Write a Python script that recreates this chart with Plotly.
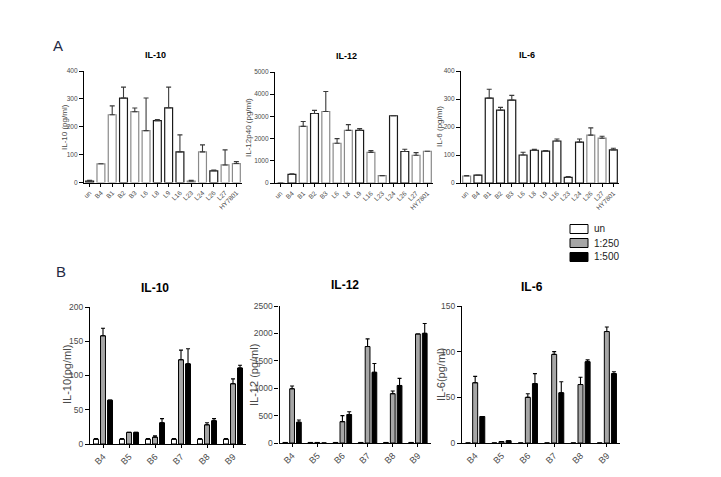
import plotly.graph_objects as go

# page body has an 8px default margin; compensate so the drawing lands where the reference has it
OFF = 8
W, H = 721 - 2 * OFF, 477 - 2 * OFF

# ---------------- data: panel A ----------------
cats_a = ["un", "B4", "B1", "B2", "B3", "L6", "L8", "L9", "L16", "L23", "L24", "L26", "L27", "HY7801"]
il10_a = [5, 67, 243, 303, 254, 186, 222, 268, 110, 5, 110, 42, 63, 68]
il10_a_err = [8, 67, 275, 342, 267, 303, 226, 342, 171, 8, 135, 45, 117, 75]
il12_a = [0, 385, 2550, 3130, 3220, 1790, 2370, 2370, 1380, 330, 3030, 1420, 1250, 1430]
il12_a_err = [0, 420, 2770, 3270, 4120, 2000, 2630, 2450, 1460, 330, 3030, 1520, 1370, 1430]
il6_a = [25, 28, 303, 260, 296, 100, 117, 114, 150, 20, 146, 171, 160, 118]
il6_a_err = [27, 28, 335, 270, 313, 110, 120, 116, 157, 23, 157, 197, 167, 124]

# ---------------- data: panel B ----------------
cats_b = ["B4", "B5", "B6", "B7", "B8", "B9"]
series_b = ["un", "1:250", "1:500"]
il10_b = {
    "un": [7, 7, 7, 7, 7, 7],
    "1:250": [158, 17, 10, 123, 28, 88],
    "1:500": [64, 17, 31, 117, 34, 111],
}
il10_b_err = {
    "un": [8, 8, 8, 8, 8, 8],
    "1:250": [169, 17, 12, 137, 31, 95],
    "1:500": [64, 17, 37, 139, 37, 115],
}
il12_b = {
    "un": [10, 10, 10, 10, 10, 10],
    "1:250": [990, 10, 390, 1760, 900, 1990],
    "1:500": [380, 0, 520, 1290, 1050, 2000],
}
il12_b_err = {
    "un": [10, 10, 10, 10, 10, 10],
    "1:250": [1040, 10, 500, 1900, 950, 1990],
    "1:500": [420, 0, 570, 1450, 1180, 2180],
}
il6_b = {
    "un": [0, 0, 0, 0, 0, 0],
    "1:250": [66, 1.5, 50, 97, 64, 122],
    "1:500": [29, 2.5, 65, 55, 89, 76],
}
il6_b_err = {
    "un": [0, 0, 0, 0, 0, 0],
    "1:250": [73, 1.5, 54, 100, 72, 127],
    "1:500": [29, 2.5, 76, 67, 91, 78],
}

# ---------------- styles ----------------
G, K = "#8a8a8a", "#1a1a1a"
outline_il10_a = [K, G, G, K, G, G, K, K, K, G, G, K, G, G]
outline_il12_a = [G, K, G, K, G, G, G, K, G, G, K, K, G, G]
outline_il6_a = [G, K, K, K, K, K, K, K, K, K, K, G, G, K]
fill_b = {"un": "white", "1:250": "#a6a6a6", "1:500": "black"}
center_b = {"un": -0.27, "1:250": 0.0, "1:500": 0.27}
BW = 0.19

FONT = "Liberation Sans Narrow, Arial Narrow, Liberation Sans, Arial, sans-serif"
TICKC = "#4a4a4a"


def px(x):
    return (x - OFF) / W


def py(y):
    return 1 - (y - OFF) / H


fig = go.Figure()

panels = {
    "a1": ("x", "y", (84, 242), (71, 182.5), 400, 100),
    "a2": ("x2", "y2", (275, 433), (72, 183), 5000, 1000),
    "a3": ("x3", "y3", (461, 619), (71, 183), 400, 100),
    "b1": ("x4", "y4", (90, 246), (307, 444), 200, 50),
    "b2": ("x5", "y5", (279.5, 430.5), (306, 443), 2500, 500),
    "b3": ("x6", "y6", (462, 620), (306, 443), 150, 50),
}

a_data = [
    ("a1", il10_a, il10_a_err, outline_il10_a),
    ("a2", il12_a, il12_a_err, outline_il12_a),
    ("a3", il6_a, il6_a_err, outline_il6_a),
]
for key, vals, tops, outl in a_data:
    xa, ya = panels[key][0], panels[key][1]
    fig.add_trace(go.Bar(
        x=cats_a, y=vals, xaxis=xa, yaxis=ya, width=0.7, offset=-0.35,
        marker=dict(color="white", line=dict(color=outl, width=1.2)),
        error_y=dict(type="data", symmetric=False,
                     array=[t - v for t, v in zip(tops, vals)],
                     arrayminus=[0] * len(vals), width=2.5, thickness=1.1, color="#3a3a3a"),
        showlegend=False,
    ))

b_data = [("b1", il10_b, il10_b_err), ("b2", il12_b, il12_b_err), ("b3", il6_b, il6_b_err)]
for i, (key, vals, tops) in enumerate(b_data):
    xa, ya = panels[key][0], panels[key][1]
    for s in series_b:
        v = vals[s]
        t = tops[s]
        fig.add_trace(go.Bar(
            x=cats_b, y=v, xaxis=xa, yaxis=ya, width=BW, offset=center_b[s] - BW / 2,
            name=s, showlegend=False,
            marker=dict(color=fill_b[s], line=dict(color="black", width=1)),
            error_y=dict(type="data", symmetric=False,
                         array=[tt - vv for tt, vv in zip(t, v)],
                         arrayminus=[0] * len(v), width=2, thickness=1.1, color="black"),
        ))

layout = dict(
    width=W, height=H, margin=dict(l=0, r=0, t=0, b=0, autoexpand=False),
    paper_bgcolor="white", plot_bgcolor="white",
    barmode="overlay", font=dict(family=FONT, color="black"),
)

for key, (xa, ya, xr, yr, ymax, dt) in panels.items():
    isA = key.startswith("a")
    xname = "xaxis" + xa[1:]
    yname = "yaxis" + ya[1:]
    n = len(cats_a) if isA else len(cats_b)
    layout[xname] = dict(
        domain=[px(xr[0]), px(xr[1])], anchor=ya, type="category",
        range=[-0.5, n - 0.5], showline=True, linecolor="black", linewidth=1.2,
        ticks="outside", ticklen=3, tickcolor="black", tickwidth=1,
        tickangle=-45, tickfont=dict(size=6.5 if isA else 9, color=TICKC, family=FONT),
        showgrid=False, zeroline=False, fixedrange=True,
    )
    layout[yname] = dict(
        domain=[py(yr[1]), py(yr[0])], anchor=xa, range=[0, ymax],
        tick0=0, dtick=dt, showline=True, linecolor="black", linewidth=1.2,
        ticks="outside", ticklen=4, tickcolor="black", tickwidth=1,
        tickfont=dict(size=6.5 if isA else 8.5, color=TICKC, family=FONT),
        showgrid=False, zeroline=False, fixedrange=True,
    )

fig.update_layout(**layout)

ann = []
def add_text(x, y, text, size, bold=False, angle=0, color="black", fam=FONT, xanchor="center"):
    ann.append(dict(x=px(x), y=py(y), xref="paper", yref="paper",
                    text=("<b>%s</b>" % text) if bold else text,
                    showarrow=False, font=dict(size=size, color=color, family=fam),
                    textangle=angle, xanchor=xanchor, yanchor="middle"))

add_text(58, 45, "A", 15, fam="Liberation Sans, Arial", color="#1f2a44")
add_text(61, 271, "B", 15, fam="Liberation Sans, Arial", color="#1f2a44")
add_text(155, 55, "IL-10", 9, bold=True)
add_text(346, 56, "IL-12", 9, bold=True)
add_text(527, 55, "IL-6", 9, bold=True)
add_text(155, 288, "IL-10", 12, bold=True)
add_text(345, 285, "IL-12", 12, bold=True)
add_text(532, 287, "IL-6", 12, bold=True)
add_text(64, 127, "IL-10 (pg/ml)", 8, angle=-90, color=TICKC)
add_text(248, 128, "IL-12p40 (pg/ml)", 8, angle=-90, color=TICKC)
add_text(439, 127, "IL-6 (pg/ml)", 8, angle=-90, color=TICKC)
add_text(67, 375, "IL-10(pg/ml)", 11, angle=-90, color=TICKC)
add_text(254, 375, "IL-12 (pg/ml)", 11, angle=-90, color=TICKC)
add_text(441, 375, "IL-6(pg/ml)", 11, angle=-90, color=TICKC)

# legend (key boxes + labels for the panel-B series)
shapes = []
leg_y = [229, 243, 257]
for s, yy in zip(series_b, leg_y):
    shapes.append(dict(type="rect", xref="paper", yref="paper",
                       x0=px(570), x1=px(588), y0=py(yy + 4.5), y1=py(yy - 4.5),
                       fillcolor=fill_b[s], line=dict(color="black", width=1)))
    add_text(592, yy, s, 10, fam="Liberation Sans, Arial", color="#222", xanchor="left")

fig.update_layout(annotations=ann, shapes=shapes)

fig.write_html("out.html")
